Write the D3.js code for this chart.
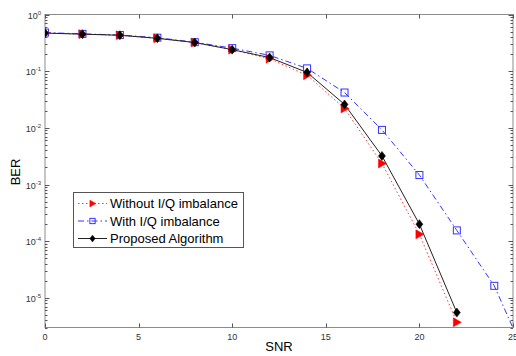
<!DOCTYPE html>
<html>
<head>
<meta charset="utf-8">
<script src="https://cdn.jsdelivr.net/npm/d3@7"></script>
<style>
  body { margin: 0; background: #fff; }
  svg { display: block; font-family: "Liberation Sans", Arial, sans-serif; }
</style>
</head>
<body>
<figure id="chart" style="margin:0"></figure>
<script>
// SNR points (dB)
const snr = [0, 2, 4, 6, 8, 10, 12, 14, 16, 18, 20, 22, 24, 26];

// BER curves
const berWithout = [0.47, 0.45, 0.43, 0.38, 0.32, 0.24, 0.165, 0.085, 0.022, 0.00235, 0.000132, 0.0000037];
const berWith = [0.48, 0.455, 0.435, 0.39, 0.325, 0.255, 0.19, 0.112, 0.042, 0.0092, 0.00147, 0.000155, 0.0000163, 0.00000053];
const berProposed = [0.47, 0.45, 0.43, 0.38, 0.32, 0.24, 0.174, 0.095, 0.0259, 0.0032, 0.0002, 0.0000055];

const xTicks = [0, 5, 10, 15, 20, 25];
const yDecades = [0, -1, -2, -3, -4, -5];
const legendLabels = ["Without I/Q imbalance", "With I/Q imbalance", "Proposed Algorithm"];

const W = 516, H = 356;
const pLeft = 45, pRight = 513, pTop = 14.5, pBottom = 327.5;

const svg = d3.select("#chart").append("svg")
  .attr("width", W).attr("height", H);

const x = d3.scaleLinear().domain([0, 25]).range([pLeft, pRight]);
const y = d3.scaleLog().domain([3e-6, 1]).range([pBottom, pTop]);

svg.append("defs").append("clipPath").attr("id", "plot")
  .append("rect").attr("x", pLeft).attr("y", pTop)
  .attr("width", pRight - pLeft).attr("height", pBottom - pTop);

// frame
svg.append("rect")
  .attr("x", pLeft).attr("y", pTop)
  .attr("width", pRight - pLeft).attr("height", pBottom - pTop)
  .attr("fill", "none").attr("stroke", "#8c8c8c").attr("stroke-width", 1);

// x ticks (bottom and top, inward); the last label is cut by the page edge as in the original
const tickG = svg.append("g").attr("stroke", "#555").attr("stroke-width", 1);
xTicks.forEach(t => {
  const px = Math.round(x(t)) + 0.5;
  tickG.append("line").attr("x1", px).attr("x2", px).attr("y1", pBottom).attr("y2", pBottom - 4);
  tickG.append("line").attr("x1", px).attr("x2", px).attr("y1", pTop).attr("y2", pTop + 4);
  svg.append("text").attr("x", x(t)).attr("y", pBottom + 12)
    .attr("text-anchor", "middle").attr("font-size", 9).attr("fill", "#333").text(t);
});

// y ticks: majors and minors on both sides
const yMinor = [];
yDecades.forEach(d => {
  for (let m = 2; m <= 9; m++) {
    const v = m * Math.pow(10, d - 1);
    if (v >= 3e-6) yMinor.push(v);
  }
});
yMinor.forEach(v => {
  const py = Math.round(y(v)) + 0.5;
  tickG.append("line").attr("x1", pLeft).attr("x2", pLeft + 2.5).attr("y1", py).attr("y2", py);
  tickG.append("line").attr("x1", pRight).attr("x2", pRight - 2.5).attr("y1", py).attr("y2", py);
});
yDecades.forEach(d => {
  const py = Math.round(y(Math.pow(10, d))) + 0.5;
  tickG.append("line").attr("x1", pLeft).attr("x2", pLeft + 4.5).attr("y1", py).attr("y2", py);
  tickG.append("line").attr("x1", pRight).attr("x2", pRight - 4.5).attr("y1", py).attr("y2", py);
  const tx = svg.append("text").attr("x", pLeft - 4).attr("y", py + 3.5)
    .attr("text-anchor", "end").attr("font-size", 9).attr("fill", "#333");
  tx.append("tspan").text("10");
  tx.append("tspan").attr("dy", -4).attr("font-size", 6).text(d);
});

// axis labels
svg.append("text").attr("x", (pLeft + pRight) / 2).attr("y", 351)
  .attr("text-anchor", "middle").attr("font-size", 13).text("SNR");
svg.append("text")
  .attr("transform", `translate(20,${(pTop + pBottom) / 2 + 1}) rotate(-90)`)
  .attr("text-anchor", "middle").attr("font-size", 13).text("BER");

const line = d3.line().x((d, i) => x(snr[i])).y(d => y(d));
const plot = svg.append("g").attr("clip-path", "url(#plot)");

const series = [
  { data: berWith, color: "#3333ff", dash: "6,3,1.5,3", marker: "square" },
  { data: berWithout, color: "#ff3333", dash: "1.5,2.5", marker: "triangle" },
  { data: berProposed, color: "#222", dash: null, marker: "diamond" }
];

function drawMarker(g, type, cx, cy, color, s = 1) {
  if (type === "square") {
    g.append("rect").attr("x", cx - 3.5 * s).attr("y", cy - 3.5 * s).attr("width", 7 * s).attr("height", 7 * s)
      .attr("fill", "none").attr("stroke", color).attr("stroke-width", 1);
  } else if (type === "triangle") {
    g.append("path").attr("d", `M${cx - 3.5 * s},${cy - 4.5 * s}L${cx + 4.5 * s},${cy}L${cx - 3.5 * s},${cy + 4.5 * s}Z`)
      .attr("fill", "#ff0000").attr("stroke", "#ff0000").attr("stroke-width", 0.5);
  } else {
    g.append("path").attr("d", `M${cx},${cy - 4.5 * s}L${cx + 3.5 * s},${cy}L${cx},${cy + 4.5 * s}L${cx - 3.5 * s},${cy}Z`)
      .attr("fill", "#000").attr("stroke", "#000").attr("stroke-width", 0.5);
  }
}

series.forEach(s => {
  plot.append("path").datum(s.data).attr("d", line)
    .attr("fill", "none").attr("stroke", s.color).attr("stroke-width", 1)
    .attr("stroke-dasharray", s.dash);
});
series.forEach(s => {
  s.data.forEach((v, i) => drawMarker(plot, s.marker, x(snr[i]), y(v), s.color));
});

// legend
const lg = svg.append("g");
lg.append("rect").attr("x", 73.5).attr("y", 192.5).attr("width", 170).attr("height", 55)
  .attr("fill", "#fff").attr("stroke", "#555").attr("stroke-width", 1);
const legendOrder = [series[1], series[0], series[2]];
legendOrder.forEach((s, i) => {
  const ly = 203.5 + i * 17.5;
  lg.append("line").attr("x1", 78).attr("x2", 107).attr("y1", ly).attr("y2", ly)
    .attr("stroke", s.color).attr("stroke-width", 1).attr("stroke-dasharray", s.dash);
  drawMarker(lg, s.marker, 92.5, ly, s.color, 0.75);
  lg.append("text").attr("x", 110).attr("y", ly + 4.5).attr("font-size", 13).text(legendLabels[i]);
});
</script>
</body>
</html>
